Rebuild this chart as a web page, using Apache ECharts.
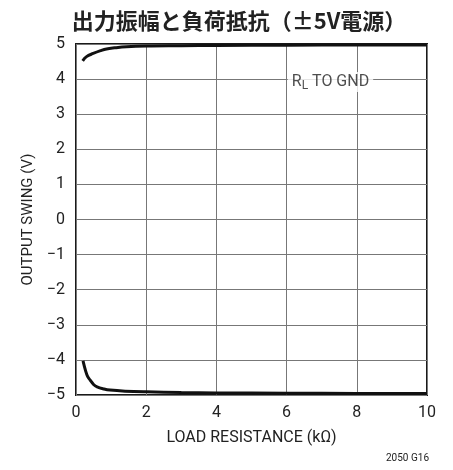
<!DOCTYPE html>
<html>
<head>
<meta charset="utf-8">
<script src="https://cdn.jsdelivr.net/npm/echarts@6/dist/echarts.min.js"></script>
<style>
  html, body { margin: 0; padding: 0; background: #fff; }
  #chart { width: 453px; height: 470px; }
</style>
</head>
<body>
<div id="chart"></div>
<script>
// Load resistance (kΩ) and output swing (V) for the positive and negative rails
const resistancePos = [0.19, 0.3, 0.49, 0.7, 0.87, 1.1, 1.44, 2.0, 3.0, 4.0, 6.0, 8.0, 10.0];
const swingPos      = [4.52, 4.64, 4.73, 4.81, 4.86, 4.89, 4.92, 4.94, 4.95, 4.96, 4.965, 4.97, 4.97];
const resistanceNeg = [0.2, 0.27, 0.33, 0.4, 0.5, 0.6, 0.8, 0.97, 1.4, 2.0, 3.0, 4.0, 6.0, 8.0, 10.0];
const swingNeg      = [-4.03, -4.3, -4.47, -4.57, -4.7, -4.77, -4.83, -4.86, -4.89, -4.91, -4.93, -4.94, -4.95, -4.955, -4.96];
const xTicks = [0, 2, 4, 6, 8, 10];
const yTicks = [-5, -4, -3, -2, -1, 0, 1, 2, 3, 4, 5];

const labelFont = '"Roboto", "Liberation Sans", sans-serif';

const chart = echarts.init(document.getElementById('chart'), null, { renderer: 'canvas' });
chart.setOption({
  animation: false,
  backgroundColor: '#fff',
  title: {
    text: '出力振幅と負荷抵抗（±5V電源）',
    left: 234, top: 5, textAlign: 'center',
    textStyle: { fontFamily: '"Noto Sans CJK JP", sans-serif', fontWeight: 'bold', fontSize: 22, color: '#222' }
  },
  grid: { left: 76, right: 26, top: 44, bottom: 75, show: true, borderColor: '#1a1a1a', borderWidth: 2, backgroundColor: 'transparent' },
  xAxis: {
    type: 'value', min: 0, max: 10, interval: 2,
    name: 'LOAD RESISTANCE (kΩ)', nameLocation: 'middle', nameGap: 35,
    nameTextStyle: { fontFamily: labelFont, fontSize: 16, color: '#222' },
    axisLine: { show: false }, axisTick: { show: false },
    axisLabel: { fontFamily: labelFont, fontSize: 16, color: '#222', margin: 10,
      formatter: v => xTicks.includes(v) ? String(v) : '' },
    splitLine: { show: true, lineStyle: { color: '#777', width: 1 } }
  },
  yAxis: {
    type: 'value', min: -5, max: 5, interval: 1,
    name: 'OUTPUT SWING (V)', nameLocation: 'middle', nameGap: 37, nameRotate: 90,
    nameTextStyle: { fontFamily: labelFont, fontSize: 15, color: '#222' },
    axisLine: { show: false }, axisTick: { show: false },
    axisLabel: { fontFamily: labelFont, fontSize: 16, color: '#222', margin: 11,
      formatter: v => yTicks.includes(v) ? String(v).replace('-', '\u2212') : '' },
    splitLine: { show: true, lineStyle: { color: '#777', width: 1 } }
  },
  series: [
    {
      type: 'line', data: resistancePos.map((x, i) => [x, swingPos[i]]),
      smooth: 0.4, showSymbol: false, lineStyle: { color: '#111', width: 3 }
    },
    {
      type: 'line', data: resistanceNeg.map((x, i) => [x, swingNeg[i]]),
      smooth: 0.4, showSymbol: false, lineStyle: { color: '#111', width: 3 }
    },
    {
      // "R_L TO GND" tag sitting on the 4 V grid line
      type: 'scatter', data: [[7.25, 4]], symbolSize: 0, silent: true, z: 5,
      label: {
        show: true, position: 'inside', offset: [0, 3],
        formatter: '{m|R}{sub|L}{m| TO GND}',
        backgroundColor: '#fff', padding: [0, 4],
        rich: {
          m: { fontFamily: labelFont, fontSize: 16, color: '#222', lineHeight: 20, verticalAlign: 'middle' },
          sub: { fontFamily: labelFont, fontSize: 12, color: '#222', lineHeight: 20, verticalAlign: 'bottom' }
        }
      }
    }
  ],
  graphic: [
    { type: 'text', left: 386, top: 453, style: { text: '2050 G16', font: '10px ' + labelFont, fill: '#222' } }
  ]
});
</script>
</body>
</html>
